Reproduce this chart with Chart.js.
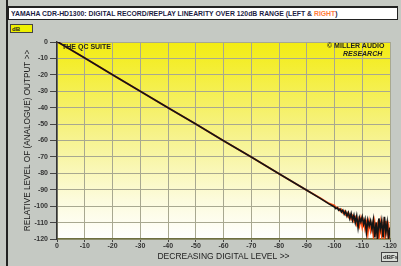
<!DOCTYPE html>
<html lang="en">
<head>
    <meta charset="UTF-8">
    <title>Linearity</title>
    <script src="https://cdn.jsdelivr.net/npm/chart.js"></script>
    <style>
        html, body { margin: 0; padding: 0; }
        body { width: 401px; height: 266px; background: #c5c9c3; position: relative; overflow: hidden; font-family: 'Liberation Sans', Arial, sans-serif; }
        #wrap { position: absolute; left: 0; top: 0; width: 401px; height: 266px; }
        .frame-line { position: absolute; left: 6px; top: 0; width: 2px; height: 266px; background: #222; }
        .title-box { position: absolute; left: 8px; top: 6px; width: 390px; height: 14px; background: #fff; border: 1px solid #222; border-top-width: 2px; font-size: 6.85px; font-weight: bold; line-height: 11px; color: #1c1c44; padding-left: 2px; white-space: nowrap; box-sizing: border-box; }
        .title-box .r { color: #ff7a3a; }
        .unit { position: absolute; font-size: 6px; font-weight: bold; line-height: 8px; color: #222; border: 1px solid #444; box-sizing: border-box; padding-left: 1px; }
        .db { left: 10px; top: 24px; width: 23px; height: 9px; background: #eef000; }
        .dbfs { left: 381px; top: 252px; width: 17px; height: 10px; background: #d8dcd6; }
        .note { position: absolute; font-size: 7px; font-weight: bold; color: #222; white-space: nowrap; }
    </style>
</head>
<body>
    <div id="wrap"><canvas id="chart" width="401" height="266"></canvas></div>
    <div class="frame-line"></div>
    <div class="title-box">YAMAHA CDR-HD1300: DIGITAL RECORD/REPLAY LINEARITY OVER 120dB RANGE (LEFT &amp; <span class="r">RIGHT</span>)</div>
    <div class="unit db">dB</div>
    <div class="unit dbfs">dBFs</div>
    <div class="note" style="left:62px; top:43px;">THE QC SUITE</div>
    <div class="note" style="left:327px; top:42px;">&copy; MILLER AUDIO</div>
    <div class="note" style="left:343px; top:50px; font-style: italic;">RESEARCH</div>

    <script>
        // input level (dBFs) and measured output (dB), left and right channels
        const levels = [0, -10, -20, -30, -40, -50, -60, -70, -80, -90, -95, -98,
            -100, -100.5, -101, -101.5, -102, -102.5, -103, -103.5, -104, -104.5,
            -105, -105.5, -106, -106.5, -107, -107.5, -108, -108.5, -109, -109.5,
            -110, -110.5, -111, -111.5, -112, -112.5, -113, -113.5, -114, -114.5,
            -115, -115.5, -116, -116.5, -117, -117.5, -118, -118.5, -119, -119.5, -120];

        const leftOut = [0.3, -9.8, -19.9, -30, -40.1, -50, -60.1, -70, -80.2, -90.3, -95.4, -98.6,
            -100.5, -101.5, -101, -102.5, -101.8, -103.5, -102.5, -104.8, -103.2, -106,
            -104, -107.5, -104.5, -108.5, -105.5, -110, -106, -113, -107, -109.5,
            -106.5, -111, -108, -116, -108.5, -112, -109, -114, -108.5, -119,
            -110, -120, -107.5, -114, -109, -119, -106.5, -116, -110, -120, -113];

        const rightOut = [0.3, -9.8, -19.9, -30, -40.1, -50, -60.1, -70, -80.2, -90.3, -95.2, -98.3,
            -99.5, -101, -100.8, -101.5, -102.8, -102, -104, -103, -105.2, -104,
            -106.5, -105, -108, -106, -109, -107, -111, -108, -112, -107.5,
            -113, -109, -114, -110, -117, -109.5, -115, -111, -118, -110,
            -117, -112, -120, -110.5, -118, -111, -120, -109, -117, -112, -120];

        const xTicks = [0, -10, -20, -30, -40, -50, -60, -70, -80, -90, -100, -110, -120];
        const yTicks = [0, -10, -20, -30, -40, -50, -60, -70, -80, -90, -100, -110, -120];

        const toPoints = arr => levels.map((l, i) => ({x: l, y: arr[i]}));

        const plotBackground = {
            id: 'plotBackground',
            beforeDraw(chart) {
                const {ctx, chartArea: a} = chart;
                const g = ctx.createLinearGradient(0, a.top, 0, a.bottom);
                g.addColorStop(0, '#f3ec12');
                g.addColorStop(0.45, '#f6f285');
                g.addColorStop(0.8, '#fcfbdc');
                g.addColorStop(1, '#ffffff');
                ctx.save();
                ctx.fillStyle = g;
                ctx.fillRect(a.left, a.top, a.right - a.left, a.bottom - a.top);
                ctx.restore();
            }
        };

        const tickFont = {family: 'Liberation Sans', size: 7, weight: 'bold'};
        const gridOpts = {
            color: '#a8a890',
            borderDash: [2, 2],
            tickBorderDash: [],
            tickColor: '#444',
            tickLength: 7
        };

        new Chart(document.getElementById('chart'), {
            type: 'line',
            data: {
                datasets: [
                    // left channel drawn on top of right
                    {label: 'Left', data: toPoints(leftOut), borderColor: '#151515', borderWidth: 1.7, pointRadius: 0, tension: 0},
                    {label: 'Right', data: toPoints(rightOut), borderColor: '#ff4d12', borderWidth: 1.7, pointRadius: 0, tension: 0}
                ]
            },
            options: {
                responsive: false,
                animation: false,
                events: [],
                layout: {padding: {left: 0, top: 42, right: 11, bottom: 0}},
                plugins: {legend: {display: false}, tooltip: {enabled: false}},
                scales: {
                    x: {
                        type: 'linear', min: -120, max: 0, reverse: true,
                        afterFit: s => { s.height = 27; },
                        afterBuildTicks: s => { s.ticks = xTicks.map(v => ({value: v})); },
                        ticks: {autoSkip: false, maxRotation: 0, padding: 0, color: '#333', font: tickFont},
                        grid: {...gridOpts, tickLength: 3},
                        border: {color: '#6f7040', width: 1.5},
                        title: {display: true, text: 'DECREASING DIGITAL LEVEL >>', color: '#222',
                            font: {family: 'Liberation Sans', size: 8.5}, padding: {top: 0, bottom: 4}}
                    },
                    y: {
                        type: 'linear', min: -120, max: 0,
                        afterFit: s => { s.width = 57; },
                        afterBuildTicks: s => { s.ticks = yTicks.map(v => ({value: v})); },
                        ticks: {autoSkip: false, padding: 2, color: '#333', font: tickFont},
                        grid: gridOpts,
                        border: {color: '#333', width: 1.5},
                        title: {display: true, text: 'RELATIVE LEVEL OF (ANALOGUE) OUTPUT >>', color: '#222',
                            font: {family: 'Liberation Sans', size: 8.2}, padding: {top: 23, bottom: 0}}
                    }
                }
            },
            plugins: [plotBackground]
        });
    </script>
</body>
</html>
